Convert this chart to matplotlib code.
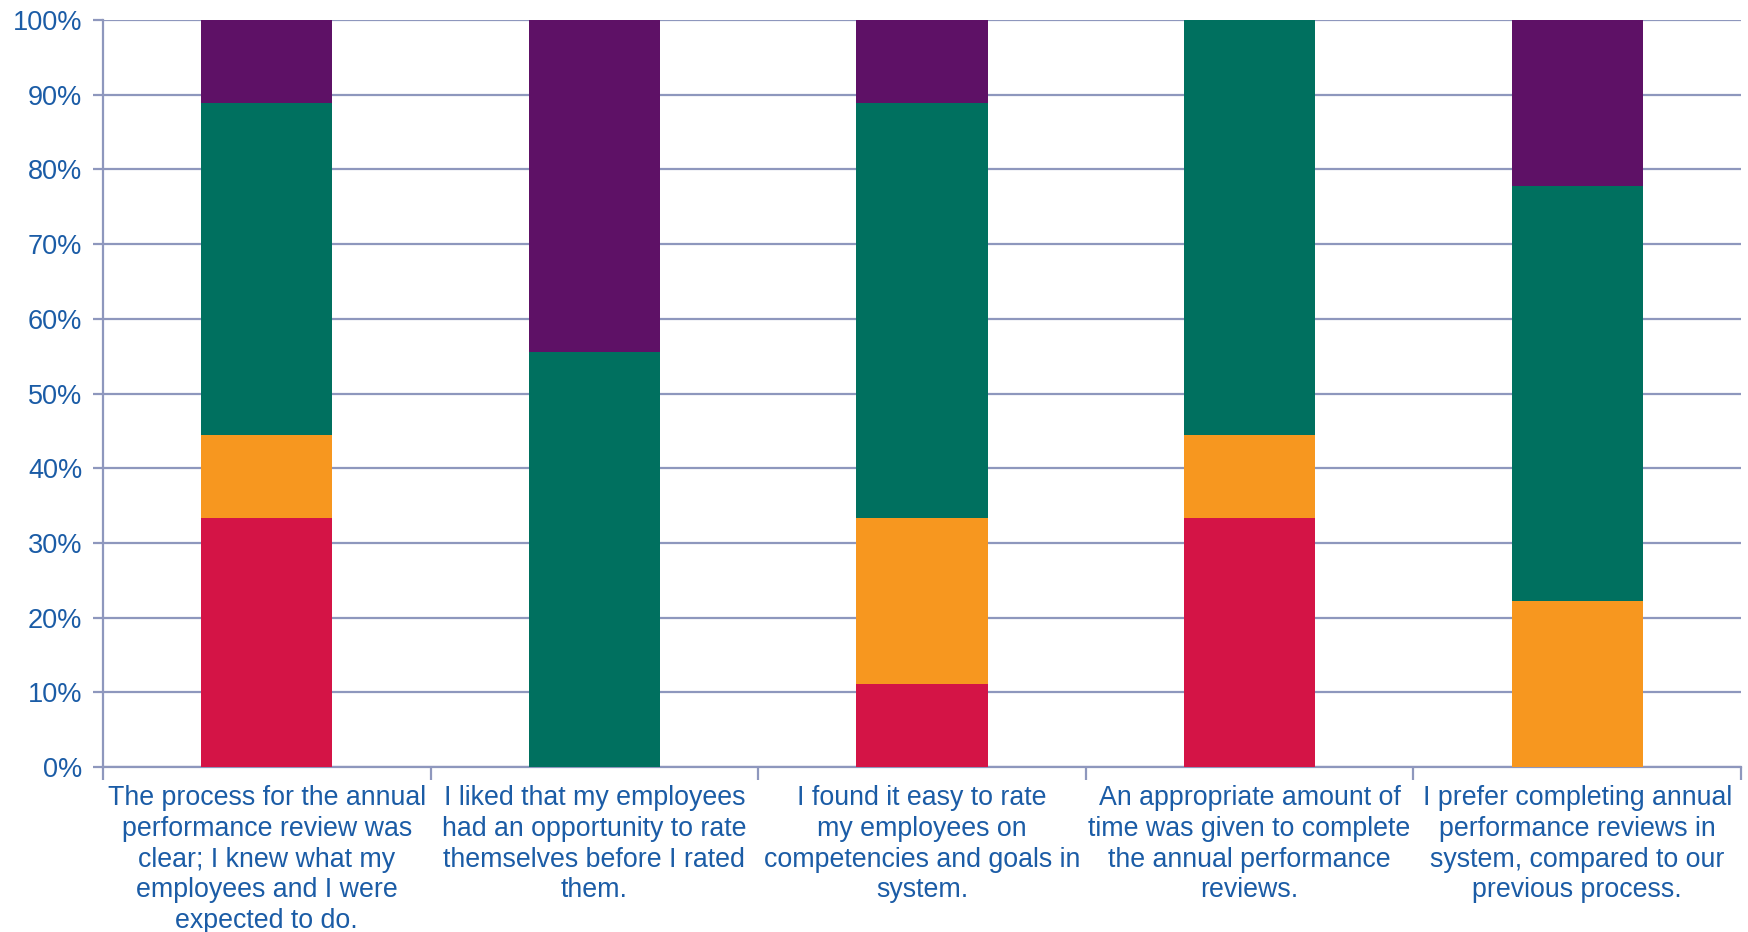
import matplotlib.pyplot as plt
import numpy as np

plt.rcParams["font.family"] = ["Liberation Sans", "DejaVu Sans"]

questions = [
    "The process for the annual\nperformance review was\nclear; I knew what my\nemployees and I were\nexpected to do.",
    "I liked that my employees\nhad an opportunity to rate\nthemselves before I rated\nthem.",
    "I found it easy to rate\nmy employees on\ncompetencies and goals in\nsystem.",
    "An appropriate amount of\ntime was given to complete\nthe annual performance\nreviews.",
    "I prefer completing annual\nperformance reviews in\nsystem, compared to our\nprevious process.",
]

# share of responses per question, stacked bottom to top
red = [33.3, 0.0, 11.1, 33.3, 0.0]
orange = [11.1, 0.0, 22.2, 11.1, 22.2]
green = [44.5, 55.6, 55.6, 55.6, 55.6]
purple = [11.1, 44.4, 11.1, 0.0, 22.2]

series = [red, orange, green, purple]
colors = ["#D41446", "#F7971F", "#00705F", "#5E1166"]

text_color = "#1B5CA6"
grid_color = "#8E97BD"

fig = plt.figure(figsize=(17.49, 9.32), dpi=100)
ax = fig.add_axes([0.0589, 0.177, 0.9365, 0.8015])

x = np.arange(len(questions))
bottom = np.zeros(len(questions))
for vals, col in zip(series, colors):
    ax.bar(x, vals, width=0.4, bottom=bottom, color=col, zorder=3)
    bottom += np.array(vals)

ax.set_xlim(-0.5, len(questions) - 0.5)
ax.set_ylim(0, 100)
ax.set_yticks(np.arange(0, 101, 10))
ax.set_yticklabels([f"{v}%" for v in range(0, 101, 10)])
ax.yaxis.grid(True, color=grid_color, linewidth=1.6, zorder=0)

# boundaries get tick marks, centres get the labels
ax.set_xticks(np.arange(len(questions) + 1) - 0.5)
ax.set_xticklabels([])
ax.set_xticks(x, minor=True)
ax.set_xticklabels(questions, minor=True, linespacing=1.24)
ax.tick_params(axis="x", which="major", length=9, width=1.6, color=grid_color)
ax.tick_params(axis="x", which="minor", length=0, pad=13, labelsize=19.3,
               labelcolor=text_color)
ax.tick_params(axis="y", length=7, width=1.6, color=grid_color, pad=8,
               labelsize=19.5, labelcolor=text_color)

for side in ["top", "right"]:
    ax.spines[side].set_visible(False)
for side in ["left", "bottom"]:
    ax.spines[side].set_color(grid_color)
    ax.spines[side].set_linewidth(1.6)

fig.savefig("out.png", dpi=100)
